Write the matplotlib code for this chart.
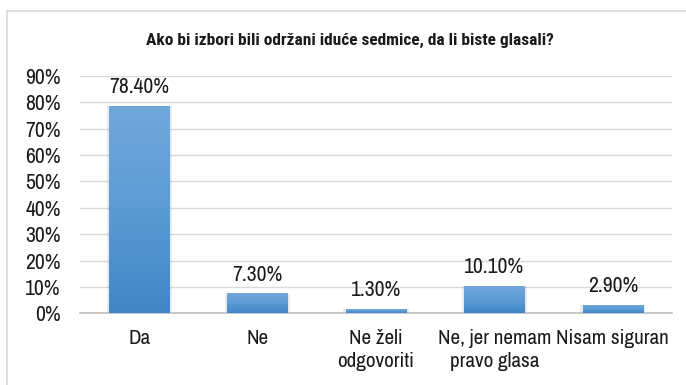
import matplotlib.pyplot as plt
import numpy as np
from matplotlib.colors import LinearSegmentedColormap
from matplotlib.patches import Rectangle

plt.rcParams['font.family'] = ['Archivo Narrow', 'DejaVu Sans']

# Odgovori i udjeli (%)
categories = ['Da', 'Ne', 'Ne želi\nodgovoriti', 'Ne, jer nemam\npravo glasa', 'Nisam siguran']
values = [78.4, 7.3, 1.3, 10.1, 2.9]
yticks = [0, 10, 20, 30, 40, 50, 60, 70, 80, 90]

fig = plt.figure(figsize=(6.86, 3.85), dpi=100)
fig.patches.append(Rectangle((7 / 686, -0.05), 1.2, 1 - 11 / 385 + 0.05, transform=fig.transFigure,
                             fill=False, edgecolor='#d9d9d9', linewidth=1.2))

ax = fig.add_axes([80 / 686, 1 - 313.3 / 385, 592 / 686, (313.3 - 76) / 385])
x = np.arange(len(categories))
bars = ax.bar(x, values, width=0.51, color='#5b9bd5', zorder=3)

# gradijent na stupcima
cmap = LinearSegmentedColormap.from_list('plava', ['#3f86c8', '#5b9bd5', '#72a7dc'])
grad = np.linspace(0, 1, 256).reshape(-1, 1)
for b in bars:
    x0, w, h = b.get_x(), b.get_width(), b.get_height()
    # blaga sjena
    ax.add_patch(Rectangle((x0 - 0.02, 0), w + 0.04, h + 0.15, facecolor='#000000', alpha=0.08,
                           linewidth=0, zorder=2))
    ax.imshow(grad, extent=(x0, x0 + w, 0, h), origin='lower', cmap=cmap, aspect='auto', zorder=4)
    ax.text(x0 + w / 2, h + 3.6, f'{h:.2f}%', ha='center', va='bottom', fontsize=15.5, color='#1a1a1a')

ax.set_xlim(-0.5, len(categories) - 0.5)
ax.set_ylim(0, 90)
ax.set_yticks(yticks)
ax.set_yticklabels([f'{t}%' for t in yticks], fontsize=15.5)
ax.set_xticks(x)
ax.set_xticklabels(categories, fontsize=15.2, linespacing=1.3)
ax.tick_params(axis='both', length=0, colors='#1a1a1a')
ax.tick_params(axis='y', pad=14)
ax.tick_params(axis='x', pad=11)
ax.yaxis.grid(True, color='#d9d9d9', linewidth=1, zorder=0)
for s in ['top', 'right', 'left']:
    ax.spines[s].set_visible(False)
ax.spines['bottom'].set_color('#bfbfbf')
ax.spines['bottom'].set_linewidth(1.2)

fig.text(350 / 686, 1 - 40 / 385, 'Ako bi izbori bili održani iduće sedmice, da li biste glasali?',
         ha='center', va='center', fontsize=12.5, fontweight='bold', color='#1a1a1a',
         family=['Roboto Condensed', 'DejaVu Sans'])

fig.savefig('out.png', dpi=100)
